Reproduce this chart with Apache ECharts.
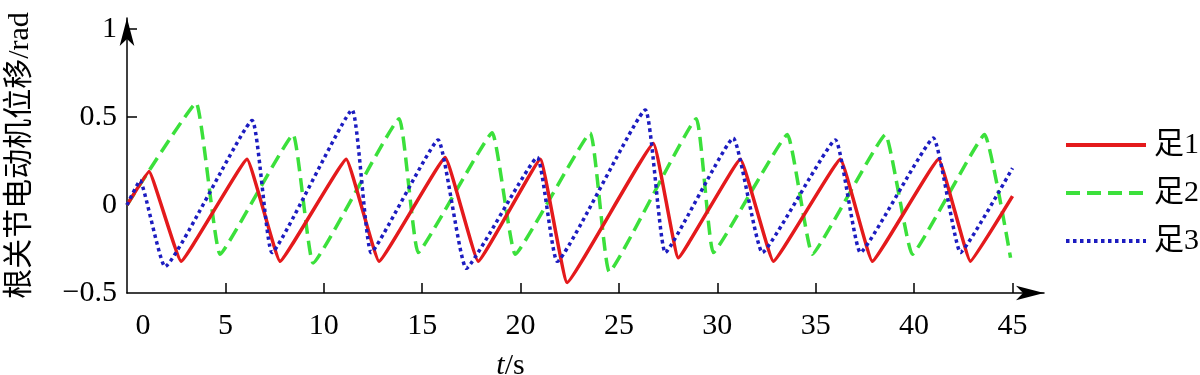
<!DOCTYPE html>
<html>
<head>
<meta charset="utf-8">
<script src="https://cdn.jsdelivr.net/npm/echarts@6/dist/echarts.min.js"></script>
<style>
html,body{margin:0;padding:0;background:#fff;}
#chart{width:1200px;height:375px;}
</style>
</head>
<body>
<div id="chart"></div>
<script>
// Series names
const seriesNames = ['足1', '足2', '足3'];

// 足1 (red, solid): time (s) and displacement (rad)
const foot1T = [0, 1.12, 2.75, 6.10, 7.78, 11.14, 12.81, 16.17, 17.85, 21.0, 22.37, 26.75, 28.02, 31.17, 32.85, 36.25, 37.88, 41.24, 42.86, 45.0];
const foot1V = [0, 0.19, -0.32, 0.26, -0.32, 0.26, -0.32, 0.27, -0.32, 0.26, -0.44, 0.35, -0.30, 0.26, -0.32, 0.26, -0.32, 0.26, -0.32, 0.05];

// 足2 (green, dashed)
const foot2T = [0, 3.51, 4.73, 8.44, 9.46, 13.83, 14.80, 18.56, 19.73, 23.54, 24.51, 28.93, 29.80, 33.56, 34.83, 38.54, 39.91, 43.58, 44.90];
const foot2V = [0, 0.58, -0.28, 0.40, -0.33, 0.49, -0.27, 0.41, -0.28, 0.41, -0.38, 0.49, -0.27, 0.40, -0.28, 0.40, -0.28, 0.40, -0.30];

// 足3 (blue, dotted)
const foot3T = [0, 0.66, 1.93, 6.36, 7.37, 11.44, 12.41, 15.81, 17.24, 20.85, 21.86, 26.34, 27.36, 30.81, 32.29, 36.0, 37.27, 40.98, 42.36, 45.0];
const foot3V = [0, 0.14, -0.35, 0.48, -0.27, 0.54, -0.27, 0.37, -0.36, 0.27, -0.32, 0.54, -0.27, 0.38, -0.27, 0.37, -0.27, 0.38, -0.27, 0.21];

// Axis ticks / labels
const xTickValues = [5, 10, 15, 20, 25, 30, 35, 40, 45];
const xLabelValues = [0, 5, 10, 15, 20, 25, 30, 35, 40, 45];
const yTickValues = [0.5, 1];
const yLabelValues = [-0.5, 0, 0.5, 1];

const xNameVar = 't';
const xNameUnit = 's';
const yName = '根关节电动机位移/rad';

function pairs(t, v) { return t.map((x, i) => [x, v[i]]); }

const serifFont = "'Liberation Serif', 'Noto Sans CJK SC', serif";
const chart = echarts.init(document.getElementById('chart'), null, {renderer: 'canvas'});

chart.setOption({
  animation: false,
  backgroundColor: '#fff',
  grid: {left: 127, right: 156, top: 18, bottom: 82, containLabel: false, outerBoundsMode: 'none'},
  legend: {
    orient: 'vertical',
    left: 1059,
    top: 125,
    itemWidth: 80,
    itemHeight: 14,
    itemGap: 18,
    lineStyle: {width: 4},
    itemStyle: {color: 'rgba(0,0,0,0)', borderWidth: 0, opacity: 0},
    textStyle: {fontSize: 30, fontFamily: serifFont, color: '#000', padding: [0, 0, 0, 3], lineHeight: 30},
    data: seriesNames
  },
  xAxis: {
    type: 'value',
    min: 0,
    max: 46.6,
    name: '{i|' + xNameVar + '}/' + xNameUnit,
    nameLocation: 'middle',
    nameGap: 58,
    nameTextStyle: {
      fontSize: 30, fontFamily: serifFont, color: '#000', padding: [0, 150, 0, 0],
      rich: {i: {fontSize: 30, fontFamily: serifFont, fontStyle: 'italic', color: '#000'}}
    },
    splitLine: {show: false},
    axisLine: {onZero: false, lineStyle: {color: '#000', width: 1.5}, symbol: ['none', 'arrow'], symbolSize: [11, 28]},
    axisTick: {inside: true, length: 10, lineStyle: {color: '#000', width: 1.5}, customValues: xTickValues},
    axisLabel: {
      customValues: xLabelValues,
      margin: 18,
      fontSize: 30, fontFamily: serifFont, color: '#000',
      formatter: function (v) { return v === 0 ? '{z|0}' : String(v); },
      rich: {z: {fontSize: 30, fontFamily: serifFont, color: '#000', padding: [0, 0, 0, 32]}}
    }
  },
  yAxis: {
    type: 'value',
    min: -0.5,
    max: 1.0625,
    name: yName,
    nameLocation: 'middle',
    nameRotate: 90,
    nameGap: 92,
    nameTextStyle: {fontSize: 30, fontFamily: serifFont, color: '#000'},
    splitLine: {show: false},
    axisLine: {onZero: false, lineStyle: {color: '#000', width: 1.5}, symbol: ['none', 'arrow'], symbolSize: [11, 28]},
    axisTick: {inside: true, length: 10, lineStyle: {color: '#000', width: 1.5}, customValues: yTickValues},
    axisLabel: {
      customValues: yLabelValues,
      margin: 10,
      fontSize: 30, fontFamily: serifFont, color: '#000',
      formatter: function (v) { return v < 0 ? '\u2212' + String(Math.abs(v)) : String(v); }
    }
  },
  series: [
    {
      name: seriesNames[0], type: 'line', data: pairs(foot1T, foot1V), symbol: 'none', smooth: 0.08,
      lineStyle: {color: '#e41a1c', width: 3.5, type: 'solid'}, itemStyle: {color: '#e41a1c'}, z: 3
    },
    {
      name: seriesNames[1], type: 'line', data: pairs(foot2T, foot2V), symbol: 'none', smooth: 0.1,
      lineStyle: {color: '#3be03b', width: 3.5, type: [14, 7]}, itemStyle: {color: '#3be03b'}, z: 2
    },
    {
      name: seriesNames[2], type: 'line', data: pairs(foot3T, foot3V), symbol: 'none', smooth: 0.12,
      lineStyle: {color: '#1c1cc0', width: 3.5, type: [3.5, 3.5]}, itemStyle: {color: '#1c1cc0'}, z: 4
    }
  ]
});
</script>
</body>
</html>
